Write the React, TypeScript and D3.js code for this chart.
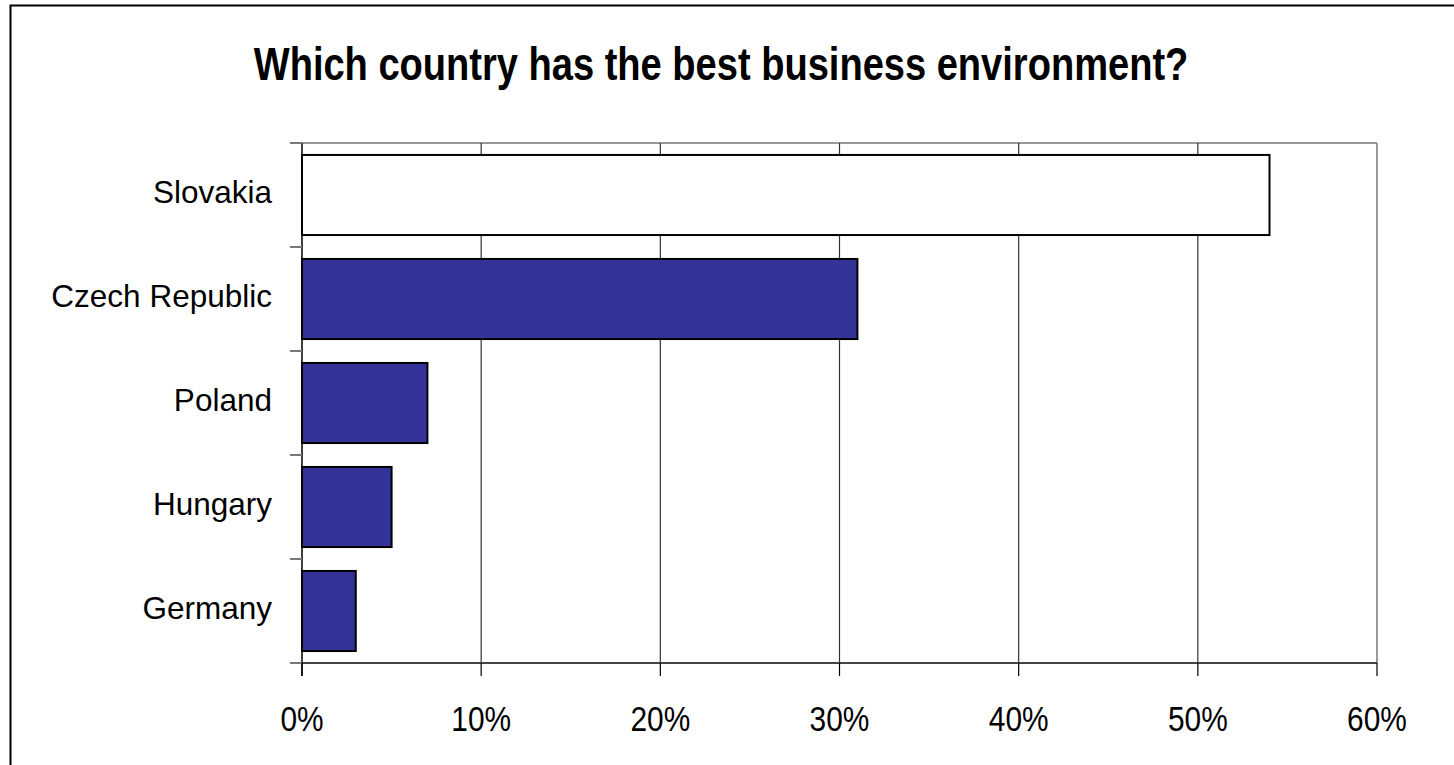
import React from "react";
import * as d3 from "d3";

const categories = ["Slovakia", "Czech Republic", "Poland", "Hungary", "Germany"];
const values = [54, 31, 7, 5, 3];
const fills = ["#ffffff", "#333399", "#333399", "#333399", "#333399"];
const xTicks = [0, 10, 20, 30, 40, 50, 60];
const title = "Which country has the best business environment?";

const W = 1454;
const H = 765;
const plot = { left: 302, right: 1377, top: 143, bottom: 663 };
const FONT = "'Liberation Sans Narrow', 'Arial Narrow', 'Liberation Sans', Arial, sans-serif";

export default function App() {
  const x = d3.scaleLinear().domain([0, 60]).range([plot.left, plot.right]);
  const y = d3
    .scaleBand<string>()
    .domain(categories)
    .range([plot.top, plot.bottom])
    .paddingInner(0.23)
    .paddingOuter(0.115);
  const band = (plot.bottom - plot.top) / categories.length;

  return (
    <svg
      width={W}
      height={H}
      style={{ position: "absolute", left: 0, top: 0, background: "#fff" }}
      fontFamily={FONT}
    >
      <rect x={0} y={0} width={W} height={H} fill="#fff" />
      {/* outer frame */}
      <rect x={10.5} y={5.5} width={W + 20} height={H + 20} fill="none" stroke="#000" strokeWidth={2} />

      <g transform="translate(721,80) scale(0.81,1)">
        <text x={0} y={0} textAnchor="middle" fontSize={47} fontWeight="bold" fill="#000">
          {title}
        </text>
      </g>

      {/* plot border top/right */}
      <line x1={plot.left} x2={plot.right} y1={plot.top} y2={plot.top} stroke="#999" strokeWidth={2} />
      <line x1={plot.right} x2={plot.right} y1={plot.top} y2={plot.bottom} stroke="#999" strokeWidth={2} />

      {/* gridlines */}
      {xTicks.slice(1, -1).map((t) => (
        <line key={t} x1={x(t)} x2={x(t)} y1={plot.top} y2={plot.bottom} stroke="#333" strokeWidth={1.2} />
      ))}

      {/* bars */}
      {categories.map((c, i) => (
        <rect
          key={c}
          x={x(0)}
          y={y(c)}
          width={x(values[i]) - x(0)}
          height={y.bandwidth()}
          fill={fills[i]}
          stroke="#000"
          strokeWidth={2}
        />
      ))}

      {/* axes */}
      <line x1={plot.left} x2={plot.right} y1={plot.bottom} y2={plot.bottom} stroke="#444" strokeWidth={2} />
      <line x1={plot.left} x2={plot.left} y1={plot.top} y2={plot.bottom + 13} stroke="#000" strokeWidth={1.5} />
      {d3.range(categories.length + 1).map((i) => (
        <line
          key={i}
          x1={plot.left - 12}
          x2={plot.left}
          y1={plot.top + i * band}
          y2={plot.top + i * band}
          stroke="#777"
          strokeWidth={2}
        />
      ))}
      {xTicks.map((t) => (
        <line key={t} x1={x(t)} x2={x(t)} y1={plot.bottom} y2={plot.bottom + 13} stroke="#000" strokeWidth={1.2} />
      ))}

      {/* labels */}
      {categories.map((c) => (
        <g key={c} transform={`translate(272,${(y(c) as number) + y.bandwidth() / 2 + 8}) scale(0.985,1)`}>
          <text x={0} y={0} textAnchor="end" fontSize={32} fill="#000">
            {c}
          </text>
        </g>
      ))}
      {xTicks.map((t) => (
        <g key={t} transform={`translate(${x(t)},731) scale(0.83,1)`}>
          <text x={0} y={0} textAnchor="middle" fontSize={36} fill="#000">
            {t + "%"}
          </text>
        </g>
      ))}
    </svg>
  );
}
